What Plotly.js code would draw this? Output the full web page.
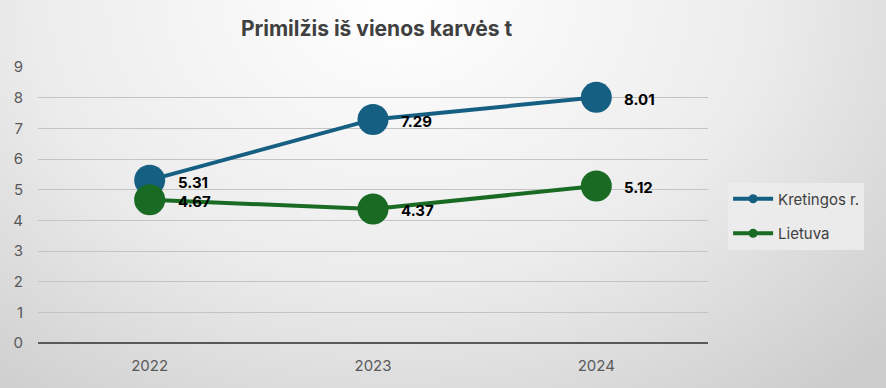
<!DOCTYPE html>
<html><head><meta charset="utf-8">
<script src="https://cdn.plot.ly/plotly-3.0.1.min.js"></script>
<style>
html,body{margin:0;padding:0;}
#chart{width:886px;height:388px;background:radial-gradient(ellipse 75% 130% at 45% 0%, #ffffff 0%, #ececec 55%, #cdcdcd 100%);}
</style></head>
<body><div id="chart"></div>
<script>
const years = ['2022','2023','2024'];
const kretingos = [5.31, 7.29, 8.01];
const lietuva = [4.67, 4.37, 5.12];
const seriesNames = ['Kretingos r.', 'Lietuva'];
const colors = ['#156082', '#196B24'];
const fmt = v => v.toFixed(2);
const FONT = 'Inter, Arial, sans-serif';

function mk(y, i){
  return {
    x: years, y: y, name: seriesNames[i], type: 'scatter', mode: 'lines+markers',
    line: {color: colors[i], width: 4},
    marker: {color: colors[i], size: 31},
    cliponaxis: false, showlegend: false, hoverinfo: 'x+y'
  };
}
function lg(i){
  return {x:[null], y:[null], name: seriesNames[i], type:'scatter', mode:'lines+markers',
    legendgroup: 'g'+i,
    line:{color:colors[i], width:4}, marker:{color:colors[i], size:9}, showlegend:true};
}
const data = [mk(kretingos,0), mk(lietuva,1), lg(0), lg(1)];
const annotations = [];
[kretingos, lietuva].forEach(arr => arr.forEach((v, j) => annotations.push({
  x: j, y: v, xref: 'x', yref: 'y', text: fmt(v), showarrow: false,
  xanchor: 'left', yanchor: 'middle', xshift: 26, yshift: -2,
  font: {family: FONT, size: 15, color: '#000000', weight: 'bold'}
})));
const layout = {
  width: 886, height: 388,
  paper_bgcolor: 'rgba(0,0,0,0)', plot_bgcolor: 'rgba(0,0,0,0)',
  margin: {l: 38, r: 178, t: 67, b: 45},
  annotations: annotations,
  title: {text: 'Primilžis iš vienos karvės t', x: 0.425, xanchor: 'center', y: 0.925, yanchor: 'middle',
    font: {family: FONT, size: 21, color: '#404040', weight: 'bold'}},
  xaxis: {type: 'category', range: [-0.5, 2.5], showgrid: false, zeroline: false, showline: false,
    ticks: '', ticklabelstandoff: 12, tickfont: {family: FONT, size: 15, color: '#595959'}},
  yaxis: {range: [0, 9], dtick: 1, showgrid: true, gridcolor: '#c4c4c4', gridwidth: 1,
    zeroline: true, zerolinecolor: '#595959', zerolinewidth: 2.5, showline: false, ticks: '',
    ticklen: 0, ticklabelstandoff: 14,
    tickfont: {family: FONT, size: 15, color: '#595959'}},
  legend: {x: 1.03, xanchor: 'left', y: 0.46, yanchor: 'middle', bgcolor: 'rgba(236,236,236,0.9)',
    font: {family: FONT, size: 15, color: '#404040'}, tracegroupgap: 12,
    itemwidth: 40},
  showlegend: true
};
Plotly.newPlot('chart', data, layout, {displayModeBar: false, staticPlot: true});
</script></body></html>
